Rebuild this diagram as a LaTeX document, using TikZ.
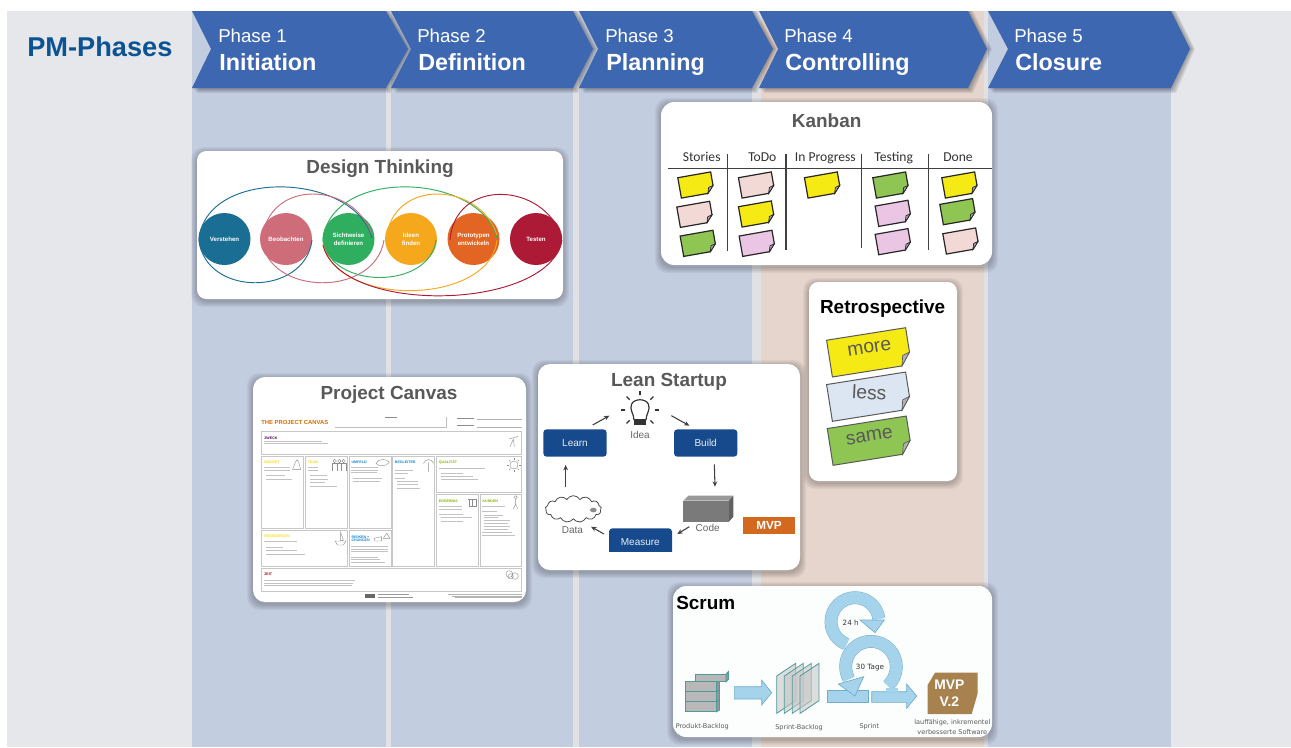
\documentclass[tikz,border=0pt]{standalone}
\usepackage{fontspec}
\setmainfont{Liberation Sans}
\newfontfamily\calib{Carlito}
\newfontfamily\dejav{DejaVu Sans}
\usetikzlibrary{shapes.symbols,arrows.meta}
\definecolor{bgc}{HTML}{E5E7EA}
\definecolor{colc}{HTML}{C3CDE0}
\definecolor{stripc}{HTML}{DFE1E5}
\definecolor{peachc}{HTML}{E6D5CC}
\definecolor{chev}{HTML}{3E67B1}
\definecolor{pmblue}{HTML}{0B5394}
\definecolor{titlec}{HTML}{595959}
\definecolor{syel}{HTML}{F5EA14}
\definecolor{spale}{HTML}{F2D9D6}
\definecolor{sgrn}{HTML}{8FC653}
\definecolor{slil}{HTML}{EBC6E4}
\definecolor{rblue}{HTML}{DCE6F2}
\definecolor{lblue}{HTML}{174A8C}
\definecolor{morange}{HTML}{D2691E}
\definecolor{sblue}{HTML}{A5D3EC}
\definecolor{sedge}{HTML}{6FAECB}
\definecolor{cteal}{HTML}{4F9A9A}
\definecolor{mvpb}{HTML}{A8824E}
\definecolor{dtb}{HTML}{1A6E93}
\definecolor{dtp}{HTML}{CF6C7A}
\definecolor{dtg}{HTML}{2FAE5F}
\definecolor{dto}{HTML}{F6A81C}
\definecolor{dtu}{HTML}{E36523}
\definecolor{dtr}{HTML}{AC1A36}
\newcommand\softcard[6]{%
  \foreach \s in {6,5,4,3,2,1}{\fill[black,opacity=.04,rounded corners=9pt] (#1-\s,#2-\s+2) rectangle (#3+\s,#4+\s+2);}
  \fill[#5,rounded corners=#6] (#1,#2) rectangle (#3,#4);}
\newcommand\chevron[6]{% x0 notch x1 tip
  \foreach \s in {5,4,3,2,1}{\fill[black,opacity=.07] (#1+\s,11) -- (#3+\s,11) -- (#4+\s,#6) -- (#3+\s,88+\s) -- (#1+\s,88+\s) -- (#2+\s,#6) -- cycle;}
  \fill[chev] (#1,11) -- (#3,11) -- (#4,#6) -- (#3,88) -- (#1,88) -- (#2,#6) -- cycle;}
\tikzset{
  phasea/.style={anchor=base west,text=white,font=\fontsize{14}{14}\selectfont,inner sep=0pt},
  phaseb/.style={anchor=base west,text=white,font=\fontsize{17.5}{17.5}\selectfont\bfseries,inner sep=0pt},
  cardtitle/.style={text=titlec,font=\fontsize{14.2}{14.2}\selectfont\bfseries,inner sep=0pt},
  blacktitle/.style={text=black,font=\fontsize{14.2}{14.2}\selectfont\bfseries,inner sep=0pt},
  dtc/.style={circle,minimum size=39pt,inner sep=0pt,text=white,align=center,font=\fontsize{4.6}{6}\selectfont\bfseries},
  loopline/.style={line width=.7pt},
  kanhead/.style={anchor=base,text=black!80,font=\calib\fontsize{10.2}{10.2}\selectfont,inner sep=0pt},
  kanline/.style={line width=1pt,draw=black!75},
  noteword/.style={text=titlec,font=\fontsize{14.5}{14.5}\selectfont,inner sep=0pt},
  lnbox/.style={fill=lblue,rounded corners=2.5pt,text=white!90!lblue,minimum width=47.5pt,minimum height=20.5pt,inner sep=0pt,font=\fontsize{7.5}{7.5}\selectfont},
  lntext/.style={text=black!60,font=\fontsize{7.5}{7.5}\selectfont,inner sep=0pt},
  lnarrow/.style={-{Stealth[length=4pt,width=3.5pt]},line width=.8pt,draw=black!75},
  scrumtext/.style={text=black!65,align=center,font=\dejav\fontsize{4.9}{7.2}\selectfont,inner sep=0pt},
  scrumin/.style={text=black!80,font=\dejav\fontsize{5.4}{5.4}\selectfont,inner sep=0pt},
  blueshape/.style={fill=sblue,draw=sedge,line width=.5pt},
  cbox/.style={draw=black!22,line width=.5pt,fill=white},
  chead/.style={anchor=west,inner sep=0pt,font=\fontsize{2.7}{2.7}\selectfont\bfseries},
  cline/.style={draw=black!24,line width=.35pt},
  cicon/.style={draw=black!45,line width=.3pt},
  pics/sticky/.style={code={
    \path[draw=black!85,line width=.9pt,fill=#1] (-50,-31) -- (50,-31) -- (50,10) -- (31,31) -- (-50,31) -- cycle;
    \path[draw=black!85,line width=.5pt,fill=black!35] (50,10) -- (36,14) -- (31,31) -- cycle;}},
  pics/retronote/.style={code={
    \path[draw=black!65,line width=.75pt,fill=#1] (-50,-31) -- (50,-31) -- (50,10) -- (38,31) -- (-50,31) -- cycle;
    \path[draw=black!65,line width=.5pt,fill=black!30] (50,10) -- (41,14) -- (38,31) -- cycle;}}
}
\begin{document}
\begin{tikzpicture}[x=.75pt,y=-.75pt]
\useasboundingbox (0,0) rectangle (1291,747);
\fill[white] (0,0) rectangle (1291,747);
% background and columns
\fill[bgc] (7,11) rectangle (1291,747);
\fill[colc] (192,11) rectangle (386,747);
\fill[stripc] (386,11) rectangle (391,747);
\fill[colc] (391,11) rectangle (573,747);
\fill[stripc] (573,11) rectangle (579,747);
\fill[colc] (579,11) rectangle (752,747);
\fill[stripc] (752,11) rectangle (761,747);
\fill[peachc] (761,11) rectangle (984,747);
\fill[stripc] (984,11) rectangle (988,747);
\fill[colc] (988,11) rectangle (1171,747);
\node[anchor=base west,inner sep=0pt,text=pmblue,font=\fontsize{20.4}{20.4}\selectfont\bfseries] (pm) at (27,56) {PM-Phases};
% chevrons
\chevron{192}{211}{386}{408}{0}{49}
\chevron{391}{411}{573}{593}{0}{49}
\chevron{579}{598}{752}{773}{0}{49}
\chevron{759}{778}{968}{987}{0}{49}
\chevron{988}{1008}{1171}{1190}{0}{49}
\node[phasea] (p1) at (218,42) {Phase 1};
\node[phaseb] (n1) at (219,70) {Initiation};
\node[phasea] (p2) at (417,42) {Phase 2};
\node[phaseb] (n2) at (418,70) {Definition};
\node[phasea] (p3) at (605,42) {Phase 3};
\node[phaseb] (n3) at (606,70) {Planning};
\node[phasea] (p4) at (784,42) {Phase 4};
\node[phaseb] (n4) at (785,70) {Controlling};
\node[phasea] (p5) at (1014,42) {Phase 5};
\node[phaseb] (n5) at (1015,70) {Closure};

% Design Thinking
\softcard{197}{151}{563}{299}{white}{7pt}
\node[cardtitle] (dt) at (380,169) {Design Thinking};
\node[dtc,fill=dtb] (c1) at (224.5,239) {Verstehen};
\node[dtc,fill=dtp] (c2) at (286,239) {Beobachten};
\node[dtc,fill=dtg] (c3) at (348.5,239) {Sichtweise\\definieren};
\node[dtc,fill=dto] (c4) at (411,239) {Ideen\\finden};
\node[dtc,fill=dtu] (c5) at (473.5,239) {Prototypen\\entwickeln};
\node[dtc,fill=dtr] (c6) at (536,239) {Testen};
\draw[loopline,dtb] (199,240) .. controls (205,167) and (355,172) .. (372,238);
\draw[loopline,dtb] (199,240) .. controls (205,297) and (305,297) .. (312,240);
\draw[loopline,dtp] (262,240) .. controls (268,177) and (355,182) .. (372,235);
\draw[loopline,dtp] (262,240) .. controls (268,296) and (375,298) .. (384,240);
\draw[loopline,dtg] (323,240) .. controls (330,167) and (480,172) .. (497,238);
\draw[loopline,dtg] (323,240) .. controls (330,290) and (430,290) .. (436,240);
\draw[loopline,dto] (386,240) .. controls (392,177) and (480,182) .. (497,235);
\draw[loopline,dto] (323,243) .. controls (335,308) and (490,306) .. (497,240);
\draw[loopline,dtr] (450,240) .. controls (455,177) and (545,182) .. (562,238);
\draw[loopline,dtr] (323,245) .. controls (340,316) and (550,311) .. (562,240);

% Project Canvas
\softcard{253}{377}{526}{602}{white}{9pt}
\node[cardtitle] (pc) at (389,395) {Project Canvas};
\begin{scope}[shift={(250,375)},x=.25pt,y=-.25pt]
\node[anchor=west,inner sep=0pt,text=orange!85!black,font=\fontsize{4.4}{4.4}\selectfont\bfseries] (pct) at (33,141) {THE PROJECT CANVAS};
\draw[black!25,line width=.4pt] (255,157) -- (590,157) -- (590,125);
\draw[black!45,line width=.9pt] (405,128) -- (440,128);
\draw[black!45,line width=.9pt] (620,130) -- (672,130) (620,152) -- (672,152);
\draw[black!30,line width=.4pt] (680,134) -- (815,134) (680,156) -- (815,156);
\foreach \a/\b/\c/\d in {35/170/815/238,35/245/160/460,167/245/293/460,298/245/423/460,428/245/553/573,559/245/815/352,559/358/686/573,692/358/815/573,35/466/293/573,298/466/423/573,35/580/815/650}
  \path[cbox] (\a,\b) rectangle (\c,\d);
\node[chead,text=violet!70!black] (h1) at (42,190) {ZWECK};
\node[chead,text=yellow!80!orange] (h2) at (42,262) {BUDGET};
\node[chead,text=yellow!80!orange] (h3) at (173,262) {TEAM};
\node[chead,text=cyan!70!blue] (h4) at (304,262) {UMFELD};
\node[chead,text=cyan!70!blue] (h5) at (434,262) {BEGLEITER};
\node[chead,text=lime!70!black] (h6) at (566,262) {QUALITÄT};
\node[chead,text=lime!70!black] (h7) at (566,378) {ERGEBNIS};
\node[chead,text=lime!70!black] (h8) at (697,378) {KUNDEN};
\node[chead,text=yellow!80!orange] (h9) at (42,484) {RESSOURCEN};
\node[chead,text=cyan!70!blue,align=left] (h10) at (304,491) {RISIKEN +\\CHANCEN};
\node[chead,text=red!70!black] (h11) at (42,597) {ZEIT};
\foreach \a/\b/\c in {42/235/205,42/215/200,42/225/205,
  42/120/278,42/120/285,48/105/301,48/125/312,
  173/205/278,173/205/285,180/230/301,180/235/312,180/225/322,180/262/333,
  304/385/278,304/385/285,304/380/292,310/395/310,310/390/320,
  434/490/286,434/475/294,434/465/310,440/505/320,440/505/329,440/510/339,
  566/705/279,572/640/295,572/670/304,572/685/314,
  566/635/395,566/635/402,566/640/417,572/665/428,572/640/438,
  697/765/395,697/740/409,703/760/420,703/745/428,703/780/437,703/775/445,703/780/455,703/775/462,697/785/472,697/795/480,
  42/140/500,48/100/516,48/140/526,48/165/537,
  304/415/515,304/415/523,304/415/530,304/385/546,304/390/553,304/405/562,
  42/315/615,42/310/624,42/305/632}
  \draw[cline] (\a,\c) -- (\b,\c);
\draw[cicon] (128,283) -- (152,283) -- (146,262) -- (141,254) -- (136,262) -- cycle;
\foreach \px in {254,268,281}{\draw[cicon] (\px,258) circle[radius=5]; \draw[cicon] (\px-7,288) -- (\px-7,266) -- (\px+7,266) -- (\px+7,288);}
\draw[cicon] (378,265) .. controls (385,250) and (410,250) .. (418,262) .. controls (410,275) and (385,275) .. cycle;
\draw[cicon] (535,290) -- (535,262) (520,265) .. controls (528,250) and (542,250) .. (552,265);
\draw[cicon] (792,270) circle[radius=12];
\foreach \an in {0,45,...,315}{\draw[cicon] (792,270) ++(\an:15) -- ++(\an:6);}
\path[cicon] (657,372) rectangle (679,395) (668,372) -- (668,395) (655,372) -- (681,372);
\draw[cicon] (797,367) circle[radius=5] (797,372) -- (797,388) (797,388) -- (790,402) (797,388) -- (804,402);
\draw[cicon] (256,498) -- (288,498) -- (280,510) -- (262,510) -- cycle (272,498) -- (272,472) -- (280,495) -- cycle;
\draw[cicon] (372,490) -- (395,485) -- (395,498) -- (375,498) -- cycle (400,490) -- (410,475) -- (420,490) -- cycle;
\draw[cicon] (778,597) circle[radius=10] (795,603) circle[radius=10] (782,604) circle[radius=8];
\draw[cicon] (777,192) -- (805,184) (790,192) -- (780,215) (790,192) -- (793,215);
\fill[black!60] (345,658) rectangle (375,668);
\draw[black!40,line width=.5pt] (385,659) -- (478,659) (385,666) -- (490,666);
\draw[black!30,line width=.4pt] (595,658) -- (815,658) (605,663) -- (815,663) (615,668) -- (815,668);
\end{scope}

% Lean Startup
\softcard{538}{364}{800}{570}{white}{9pt}
\begin{scope}[shift={(530,360)},x=.25pt,y=-.25pt]
\node[cardtitle] (ls) at (417,65) {Lean Startup};
\node[lnbox] (learn) at (135,249) {Learn};
\node[lnbox] (build) at (527,249) {Build};
\path[fill=lblue,rounded corners=2.5pt] (237,575) -- (237,505) -- (426,505) -- (426,575);
\fill[lblue] (237,560) rectangle (426,575);
\node[inner sep=0pt,text=white!90!lblue,font=\fontsize{7.5}{7.5}\selectfont] (measure) at (331,546) {Measure};
\node[lntext] (ideat) at (330,225) {Idea};
\node[lntext] (codet) at (533,503) {Code};
\node[lntext] (datat) at (127,510) {Data};
% bulb
\draw[black!80,line width=.9pt] (312,180) .. controls (312,160) and (297,150) .. (305,132) .. controls (313,115) and (347,115) .. (355,132) .. controls (363,150) and (348,160) .. (348,180);
\fill[black!80] (312,178) rectangle (348,195);
\foreach \an in {180,225,270,315,0,45,135}{\draw[black!80,line width=.9pt] (330,150) ++(\an:44) -- ++(\an:13);}
% cloud
\node[cloud,draw=black!70,fill=white,line width=.6pt,cloud puffs=13,cloud puff arc=120,aspect=2.6,minimum width=42pt,minimum height=20pt,inner sep=0pt] (cloudn) at (130,447) {};
\fill[black!45] (190,450) ellipse[x radius=10,y radius=7];
% cube
\fill[black!52] (460,422) rectangle (597,485);
\fill[black!40] (460,422) -- (475,407) -- (610,407) -- (597,422) -- cycle;
\fill[black!62] (597,422) -- (610,407) -- (610,470) -- (597,485) -- cycle;
% MVP
\node[fill=morange,text=white,font=\fontsize{8.8}{8.8}\selectfont\bfseries,minimum width=39pt,minimum height=13.2pt,inner sep=0pt] (mvp) at (717,496) {MVP};
% arrows
\coordinate (a1) at (188,195); \coordinate (a2) at (238,167);
\coordinate (b1) at (424,167); \coordinate (b2) at (478,197);
\coordinate (d1) at (553,313); \coordinate (d2) at (555,380);
\coordinate (e1) at (478,500); \coordinate (e2) at (442,522);
\coordinate (f1) at (222,522); \coordinate (f2) at (183,500);
\coordinate (g1) at (107,382); \coordinate (g2) at (107,315);
\draw[lnarrow] (a1) -- (a2);
\draw[lnarrow] (b1) -- (b2);
\draw[lnarrow] (d1) -- (d2);
\draw[lnarrow] (e1) -- (e2);
\draw[lnarrow] (f1) -- (f2);
\draw[lnarrow] (g1) -- (g2);
\end{scope}

% Kanban
\softcard{661}{102}{992}{265}{white}{10pt}
\begin{scope}[shift={(660,95)},x=.25pt,y=-.25pt]
\node[cardtitle] (kb) at (500,76) {Kanban};
\node[kanhead] (k1) at (125,198) {Stories};
\node[kanhead] (k2) at (307,198) {ToDo};
\node[kanhead] (k3) at (496,198) {In Progress};
\node[kanhead] (k4) at (701,198) {Testing};
\node[kanhead] (k5) at (894,198) {Done};
\draw[kanline] (25,221) -- (997,221);
\foreach \vx/\vb in {203/468,378/465,605/460,806/465}{\draw[kanline] (\vx,178) -- (\vx,\vb);}
\pic[rotate=10] at (108,270) {sticky=syel};
\pic[rotate=10] at (105,358) {sticky=spale};
\pic[rotate=10] at (115,445) {sticky=sgrn};
\pic[rotate=10] at (290,270) {sticky=spale};
\pic[rotate=10] at (290,357) {sticky=syel};
\pic[rotate=10] at (292,445) {sticky=slil};
\pic[rotate=10] at (488,270) {sticky=syel};
\pic[rotate=10] at (693,270) {sticky=sgrn};
\pic[rotate=10] at (700,355) {sticky=slil};
\pic[rotate=10] at (700,440) {sticky=slil};
\pic[rotate=10] at (900,270) {sticky=syel};
\pic[rotate=10] at (894,350) {sticky=sgrn};
\pic[rotate=10] at (903,438) {sticky=spale};
\end{scope}

% Retrospective
\softcard{809}{282}{957}{481}{white}{7pt}
\begin{scope}[shift={(800,275)},x=.25pt,y=-.25pt]
\node[blacktitle] (rt) at (248,101) {Retrospective};
\pic[rotate=9,xscale=2.4,yscale=1.8] at (207,232) {retronote=syel};
\pic[rotate=9,xscale=2.4,yscale=1.8] at (207,365) {retronote=rblue};
\pic[rotate=9,xscale=2.4,yscale=1.8] at (209,497) {retronote=sgrn};
\node[noteword,rotate=9] (rm) at (208,219) {more};
\node[noteword,rotate=-3] (rl) at (208,352) {less};
\node[noteword,rotate=9] (rs) at (208,484) {same};
\end{scope}

% Scrum
\softcard{673}{586}{992}{737}{white!97!sblue}{10pt}
\begin{scope}[shift={(665,580)},x=.25pt,y=-.25pt]
\node[blacktitle,anchor=west] (sc) at (33,68) {Scrum};
% backlog
\foreach \ly in {305,335,365}{
  \path[fill=black!28,draw=cteal,line width=.7pt] (62,\ly) rectangle (155,\ly+30);
  \path[fill=black!40,draw=cteal,line width=.7pt] (155,\ly) -- (163,\ly-5) -- (163,\ly+25) -- (155,\ly+30) -- cycle;}
\path[fill=black!28,draw=cteal,line width=.7pt] (90,282) rectangle (183,305);
\path[fill=black!40,draw=cteal,line width=.7pt] (183,282) -- (190,275) -- (190,298) -- (183,305) -- cycle;
\path[blueshape] (208,320) -- (290,320) -- (290,300) -- (320,338) -- (290,375) -- (290,357) -- (208,357) -- cycle;
% sprint backlog
\foreach \ox in {0,23,47,70}{
  \path[fill=black!22,fill opacity=.6,draw=cteal,line width=.6pt] (335+\ox,288) -- (392+\ox,250) -- (392+\ox,362) -- (335+\ox,400) -- cycle;}
% small loop
\draw[sedge,line width=9.6pt] (570,125) ++(112:72) arc[start angle=112,end angle=352,radius=72];
\draw[sblue,line width=8.9pt] (570,125) ++(110:72) arc[start angle=110,end angle=354,radius=72];
\path[blueshape] (585,120) -- (658,120) -- (630,158) -- cycle;
\node[scrumin] (t24) at (557,127) {24 h};
% big loop
\draw[sedge,line width=9.6pt] (618,260) ++(47:76) arc[start angle=47,end angle=-208,radius=76];
\draw[sblue,line width=8.9pt] (618,260) ++(49:76) arc[start angle=49,end angle=-210,radius=76];
\path[blueshape] (487,330) rectangle (610,367);
\path[blueshape] (520,312) -- (596,290) -- (570,348) -- cycle;
\path[blueshape] (620,335) -- (725,335) -- (725,312) -- (755,348) -- (725,385) -- (725,367) -- (620,367) -- cycle;
\fill[sblue] (662,325) rectangle (700,337);
\node[scrumin] (t30) at (615,263) {30 Tage};
% MVP
\path[fill=mvpb] (810,278) -- (938,278) -- (938,340) -- (920,402) -- (788,402) -- (788,315) -- cycle;
\node[text=white,align=center,font=\fontsize{10.4}{13}\selectfont\bfseries,inner sep=0pt] (mv2) at (853,340) {MVP\\V.2};
\node[scrumtext] (s1) at (112,440) {Produkt-Backlog};
\node[scrumtext] (s2) at (402,442) {Sprint-Backlog};
\node[scrumtext] (s3) at (613,440) {Sprint};
\node[scrumtext] (s4) at (862,441) {lauffähige, inkrementel\\verbesserte Software};
\end{scope}
\end{tikzpicture}
\end{document}
